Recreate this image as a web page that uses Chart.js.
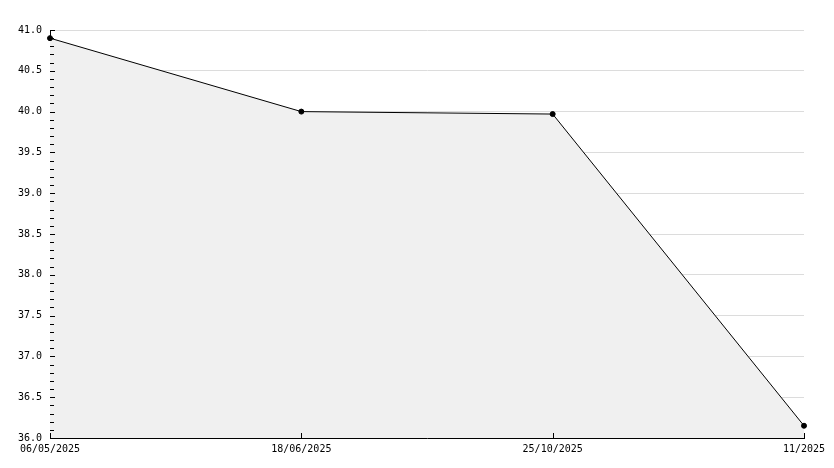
<!DOCTYPE html>
<html>
<head>
<meta charset="utf-8">
<script src="https://cdn.jsdelivr.net/npm/chart.js@4"></script>
<style>
  html, body { margin: 0; padding: 0; background: #fff; }
  #wrap { width: 834px; height: 468px; }
</style>
</head>
<body>
<div id="wrap"><canvas id="graphCanvas" width="834" height="468"></canvas></div>
<script>
var dates = ["06/05/2025", "18/06/2025", "25/10/2025", "11/2025"];
var values = [40.9, 40.0, 39.97, 36.15];
var y_min = 36.0;
var y_max = 41.0;

function is_major(v) {
  return Math.round(v * 10) % 5 === 0;
}

// ticks are drawn inward from the axes, like the original
var inner_ticks = {
  id: 'inner_ticks',
  afterDatasetsDraw: function(chart) {
    var ctx = chart.ctx;
    var xs = chart.scales.x;
    var ys = chart.scales.y;
    var area = chart.chartArea;
    ctx.save();
    ctx.strokeStyle = '#000';
    ctx.lineWidth = 1;
    ctx.beginPath();
    ys.ticks.forEach(function(t) {
      var py = Math.round(ys.getPixelForValue(t.value)) + 0.5;
      var len = is_major(t.value) ? 5 : 4;
      ctx.moveTo(area.left, py);
      ctx.lineTo(area.left + len, py);
    });
    for (var ii = 0; ii < dates.length; ii++) {
      var px = Math.round(xs.getPixelForValue(ii)) + 0.5;
      ctx.moveTo(px, area.bottom);
      ctx.lineTo(px, area.bottom - 5);
    }
    ctx.stroke();
    ctx.restore();
  }
};

var font = { family: "'DejaVu Sans Mono', monospace", size: 10 };

var graph = new Chart(document.getElementById("graphCanvas"), {
  type: 'line',
  data: {
    labels: dates,
    datasets: [{
      data: values,
      borderColor: '#000',
      borderWidth: 1,
      backgroundColor: '#f0f0f0',
      fill: 'start',
      tension: 0,
      pointRadius: 2.5,
      pointBackgroundColor: '#000',
      pointBorderColor: '#000',
      pointBorderWidth: 1
    }]
  },
  options: {
    responsive: false,
    animation: false,
    layout: { padding: { top: 30, right: 30, left: 0, bottom: 0 } },
    plugins: { legend: { display: false }, tooltip: { enabled: false } },
    scales: {
      x: {
        offset: false,
        grid: { display: false, drawTicks: false },
        border: { display: true, color: '#000', width: 1 },
        ticks: { color: '#000', font: font, padding: 5, maxRotation: 0, autoSkip: false },
        afterFit: function(scale) { scale.height = 30; }
      },
      y: {
        min: y_min,
        max: y_max,
        grid: {
          drawTicks: false,
          color: function(c) { return (c.tick && is_major(c.tick.value)) ? '#dcdcdc' : 'rgba(0,0,0,0)'; }
        },
        border: { display: true, color: '#000', width: 1 },
        ticks: {
          stepSize: 0.1,
          autoSkip: false,
          color: '#000',
          font: font,
          padding: 8,
          callback: function(v) { return is_major(v) ? Number(v).toFixed(1) : ''; }
        },
        afterFit: function(scale) { scale.width = 50; }
      }
    }
  },
  plugins: [inner_ticks]
});
</script>
</body>
</html>
